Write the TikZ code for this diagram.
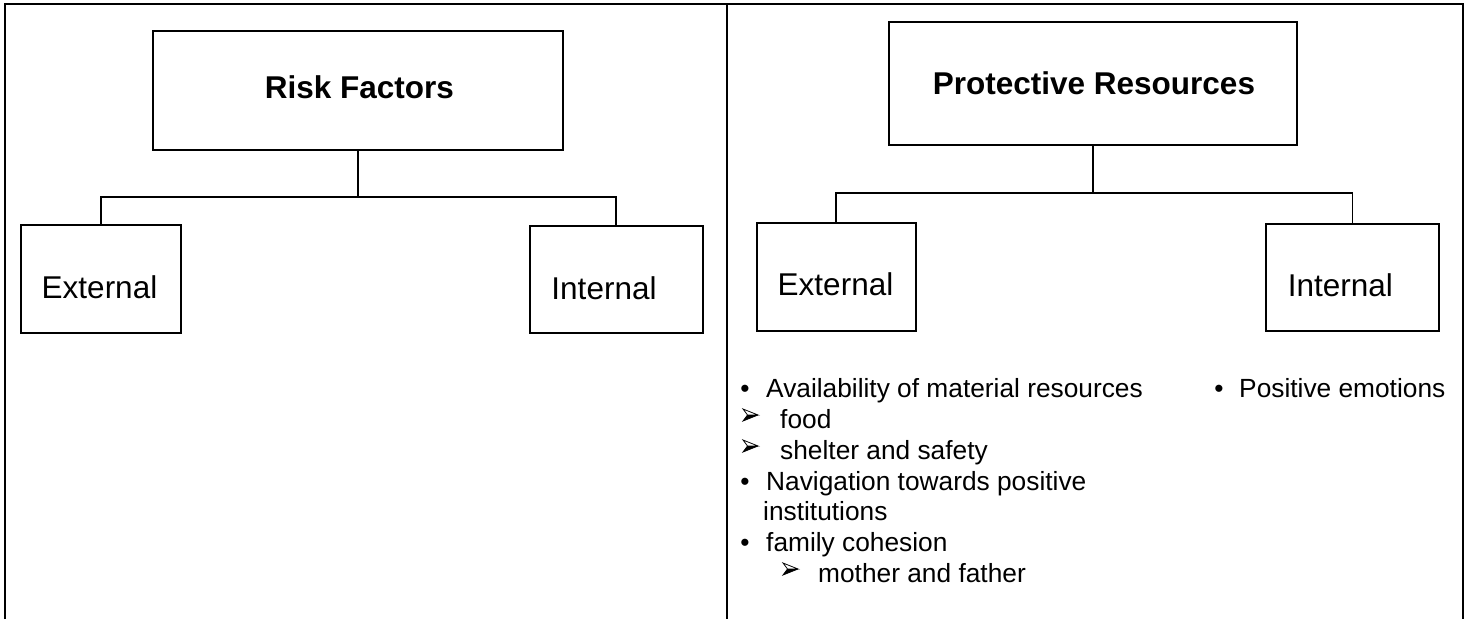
\documentclass[tikz,border=0pt]{standalone}
\usepackage{fontspec}
\setmainfont{Liberation Sans}

\begin{document}
\begin{tikzpicture}[x=1pt, y=-1pt,
  frame/.style={line width=2.2pt},
  box/.style={draw, line width=1.8pt, rectangle, inner sep=0pt},
  link/.style={line width=1.8pt},
  title/.style={font=\fontsize{31.5}{36}\selectfont\bfseries, anchor=base, inner sep=0pt},
  label/.style={font=\fontsize{31.5}{36}\selectfont, anchor=base, inner sep=0pt},
  item/.style={font=\fontsize{26.3}{30}\selectfont, anchor=base west, inner sep=0pt},
  dot/.style={font=\fontsize{26.3}{30}\selectfont, anchor=base, inner sep=0pt},
  % three-d arrowhead list marker: light upper half, dark lower half
  listarrow/.pic={
    \draw[line width=0.8pt, fill=white, line join=miter] (7.5,0) -- (-7.5,-6) -- (-3,0) -- cycle;
    \fill[black] (7.5,0) -- (-3,0) -- (-7.5,6) -- cycle;
    \draw[line width=0.8pt, line join=miter] (7.5,0) -- (-7.5,6) -- (-3,0);
  }
]
\useasboundingbox (0,0) rectangle (1473,619);

% table frame: two open-bottom cells
\draw[frame] (5,619) -- (5,4) -- (1463,4) -- (1463,619);
\draw[frame] (727,4) -- (727,619);

% ---------- left cell: risk factors ----------
\node[box, minimum width=410pt, minimum height=119pt] (riskbox) at (358,90.5) {};
\node[title] (risktext) at (359.5,98) {Risk Factors};
\node[box, minimum width=160pt, minimum height=108pt] (extLbox) at (100.7,279) {};
\node[label] (extLtext) at (99.5,298) {External};
\node[box, minimum width=172.7pt, minimum height=107pt] (intLbox) at (616.35,279.5) {};
\node[label] (intLtext) at (604,299) {Internal};

\coordinate (jL) at (358,197);
\draw[link] (riskbox.south) -- (jL);
\draw[link] (extLbox.north) |- (jL) -| (intLbox.north);

% ---------- right cell: protective resources ----------
\node[box, minimum width=407.7pt, minimum height=123.3pt] (protbox) at (1093.15,83.65) {};
\node[title] (prottext) at (1094,94) {Protective Resources};
\node[box, minimum width=159.3pt, minimum height=108pt] (extRbox) at (836.35,276.7) {};
\node[label] (extRtext) at (835.5,295) {External};
\node[box, minimum width=173pt, minimum height=106.7pt] (intRbox) at (1352.5,277.35) {};
\node[label] (intRtext) at (1340.3,296.7) {Internal};

\coordinate (jR) at (1093.15,193.3);
\draw[link] (protbox.south) -- (jR);
\draw[link] (extRbox.north) |- (jR) -| (intRbox.north);

% external resources list
\node[dot] (b1) at (745,397) {•};
\node[item] (t1) at (766,397) {Availability of material resources};
\pic (a1) at (750.5,415) {listarrow};
\node[item] (t2) at (780,428) {food};
\pic (a2) at (750.5,446) {listarrow};
\node[item] (t3) at (780,459) {shelter and safety};
\node[dot] (b2) at (745,490) {•};
\node[item] (t4) at (766,490) {Navigation towards positive};
\node[item] (t5) at (763,520) {institutions};
\node[dot] (b3) at (745,551) {•};
\node[item] (t6) at (766,551) {family cohesion};
\pic (a3) at (790.5,569) {listarrow};
\node[item] (t7) at (818,582) {mother and father};

% internal resources list
\node[dot] (b4) at (1219,397) {•};
\node[item] (t8) at (1239,397) {Positive emotions};
\end{tikzpicture}
\end{document}
